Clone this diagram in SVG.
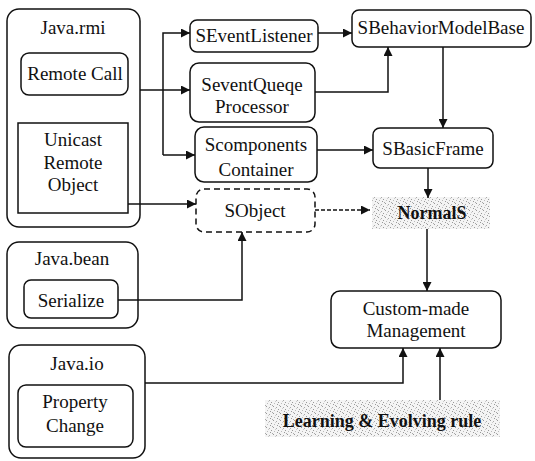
<svg xmlns="http://www.w3.org/2000/svg" width="535" height="461" viewBox="0 0 535 461">
<style>
.b{fill:#fff;stroke:#111;stroke-width:1.5}
.d{fill:#fff;stroke:#111;stroke-width:1.5;stroke-dasharray:6 4}
.t{font-family:"Liberation Serif","Times New Roman",serif;font-size:19px;fill:#111;text-anchor:middle}
.tb{font-family:"Liberation Serif","Times New Roman",serif;font-size:18px;font-weight:bold;fill:#111;text-anchor:middle}
.c{fill:none;stroke:#111;stroke-width:1.5}
</style>
<defs>
<marker id="a" viewBox="0 0 10 10" refX="10" refY="5" markerWidth="10" markerHeight="9" markerUnits="userSpaceOnUse" orient="auto"><path d="M0,0 L10,5 L0,10 z" fill="#111"/></marker>
<pattern id="n" width="7" height="7" patternUnits="userSpaceOnUse">
<rect width="7" height="7" fill="#f4f4f4"/>
<rect x="0" y="0" width="1" height="1" fill="#999"/>
<rect x="3" y="1" width="1" height="1" fill="#aaa"/>
<rect x="5" y="3" width="1" height="1" fill="#999"/>
<rect x="1" y="4" width="1" height="1" fill="#bbb"/>
<rect x="4" y="5" width="1" height="1" fill="#999"/>
<rect x="6" y="6" width="1" height="1" fill="#aaa"/>
<rect x="2" y="2" width="1" height="1" fill="#ccc"/>
</pattern>
</defs>

<g id="java-rmi">
<rect class="b" x="7" y="9" width="133" height="218" rx="12"/>
<text class="t" x="73" y="34">Java.rmi</text>
<g id="remote-call"><rect class="b" x="21" y="53" width="107" height="42" rx="8"/><text class="t" x="75" y="80">Remote Call</text></g>
<g id="unicast"><rect class="b" x="18" y="123" width="110" height="90"/>
<text class="t" x="73" y="146">Unicast</text><text class="t" x="73" y="169">Remote</text><text class="t" x="73" y="191">Object</text></g>
</g>

<g id="java-bean">
<rect class="b" x="7" y="242" width="131" height="86" rx="12"/>
<text class="t" x="72" y="265">Java.bean</text>
<g id="serialize"><rect class="b" x="24" y="280" width="94" height="38" rx="7"/><text class="t" x="71" y="307">Serialize</text></g>
</g>

<g id="java-io">
<rect class="b" x="9" y="345" width="136" height="113" rx="12"/>
<text class="t" x="77" y="370">Java.io</text>
<g id="property-change"><rect class="b" x="18" y="385" width="115" height="62" rx="8"/>
<text class="t" x="75" y="408">Property</text><text class="t" x="75" y="432">Change</text></g>
</g>

<g id="seventlistener"><rect class="b" x="190" y="20" width="128" height="32" rx="7"/><text class="t" x="254" y="42">SEventListener</text></g>
<g id="seventqueqe"><rect class="b" x="190" y="63" width="125" height="59" rx="9"/><text class="t" x="252" y="91">SeventQueqe</text><text class="t" x="252" y="113">Processor</text></g>
<g id="scomponents"><rect class="b" x="195" y="127" width="122" height="55" rx="9"/><text class="t" x="256" y="151">Scomponents</text><text class="t" x="256" y="176">Container</text></g>
<g id="sobject"><rect class="d" x="196" y="189" width="119" height="43" rx="8"/><text class="t" x="255" y="217">SObject</text></g>
<g id="sbehaviormodelbase"><rect class="b" x="352" y="10" width="179" height="37" rx="7"/><text class="t" x="441" y="34">SBehaviorModelBase</text></g>
<g id="sbasicframe"><rect class="b" x="373" y="128" width="120" height="40" rx="7"/><text class="t" x="433" y="155">SBasicFrame</text></g>
<g id="normals"><rect x="372" y="197" width="118" height="32" fill="url(#n)"/><text class="tb" x="432" y="219">NormalS</text></g>
<g id="custom-made"><rect class="b" x="331" y="291" width="170" height="57" rx="9"/><text class="t" x="416" y="315">Custom-made</text><text class="t" x="416" y="337">Management</text></g>
<g id="learning"><rect x="265" y="400" width="235" height="37" fill="url(#n)"/><text class="tb" x="382" y="427">Learning &amp; Evolving rule</text></g>

<g id="connectors">
<path class="c" d="M140,90 H190" marker-end="url(#a)"/>
<path class="c" d="M163,155 V33 H190" marker-end="url(#a)"/>
<path class="c" d="M163,155 H195" marker-end="url(#a)"/>
<path class="c" d="M318,33 H352" marker-end="url(#a)"/>
<path class="c" d="M315,92 H388 V47" marker-end="url(#a)"/>
<path class="c" d="M443,47 V128" marker-end="url(#a)"/>
<path class="c" d="M317,150 H373" marker-end="url(#a)"/>
<path class="c" d="M428,168 V198" marker-end="url(#a)"/>
<path class="c" d="M128,204 H196" marker-end="url(#a)"/>
<path class="c" d="M315,210 H370" stroke-dasharray="4 2" marker-end="url(#a)"/>
<path class="c" d="M118,300 H242 V232" marker-end="url(#a)"/>
<path class="c" d="M427,229 V291" marker-end="url(#a)"/>
<path class="c" d="M145,383 H403 V348" marker-end="url(#a)"/>
<path class="c" d="M440,400 V348" marker-end="url(#a)"/>
</g>
</svg>
